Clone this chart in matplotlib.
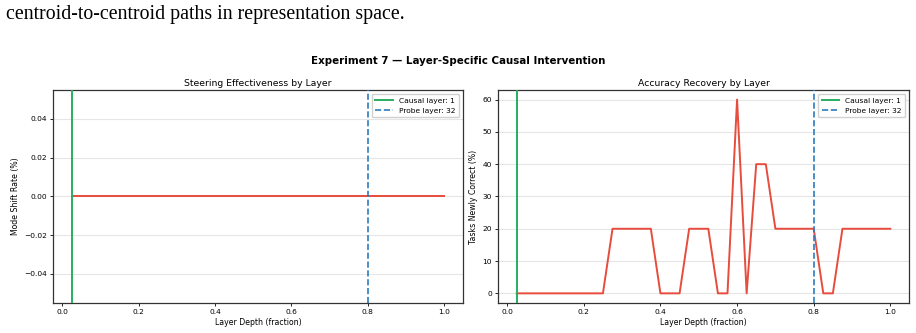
import matplotlib
matplotlib.use("Agg")
import matplotlib.pyplot as plt
import numpy as np

# Data
layers = list(range(1, 41))
n_layers = 40
mode_shift_rate = [0.0] * 40
tasks_newly_correct = [0, 0, 0, 0, 0, 0, 0, 0, 0, 0,
                       20, 20, 20, 20, 20,
                       0, 0, 0,
                       20, 20, 20,
                       0, 0,
                       60,
                       0,
                       40, 40,
                       20, 20, 20, 20, 20,
                       0, 0,
                       20, 20, 20, 20, 20, 20]
causal_layer = 1
probe_layer = 32

depth = [l / n_layers for l in layers]

RED = "#e74c3c"
GREEN = "#27ae60"
BLUE = "#2f7bc0"

fig = plt.figure(figsize=(9.16, 3.33), dpi=100)
fig.text(0.007, 0.957, "centroid-to-centroid paths in representation space.",
         family="Liberation Serif", fontsize=14.3, ha="left", va="center")
fig.suptitle("Experiment 7 — Layer-Specific Causal Intervention", x=0.5, y=0.817,
             fontsize=7.4, fontweight="bold", va="center")

ax1 = fig.add_axes([0.058, 0.090, 0.447, 0.640])
ax2 = fig.add_axes([0.5437, 0.090, 0.4487, 0.640])

panels = [
    (ax1, mode_shift_rate, "Steering Effectiveness by Layer", "Mode Shift Rate (%)"),
    (ax2, tasks_newly_correct, "Accuracy Recovery by Layer", "Tasks Newly Correct (%)"),
]
for ax, vals, title, ylabel in panels:
    ax.plot(depth, vals, color=RED, lw=1.4, zorder=3)
    ax.axvline(causal_layer / n_layers, color=GREEN, lw=1.4,
               label=f"Causal layer: {causal_layer}", zorder=4)
    ax.axvline(probe_layer / n_layers, color=BLUE, lw=1.2, ls="--",
               label=f"Probe layer: {probe_layer}", zorder=4)
    ax.set_title(title, fontsize=6.7, pad=3)
    ax.set_xlabel("Layer Depth (fraction)", fontsize=5.6, labelpad=2)
    ax.set_ylabel(ylabel, fontsize=5.6, labelpad=3)
    ax.tick_params(labelsize=5.4, length=2.5, width=0.6, pad=2)
    ax.grid(axis="y", color="#e6e6e6", lw=0.8, zorder=0)
    ax.set_axisbelow(True)
    for s in ax.spines.values():
        s.set_linewidth(0.9)
        s.set_color("#333333")
    ax.margins(x=0.05)
    ax.legend(loc="upper right", fontsize=5.4, framealpha=0.9, borderpad=0.5,
              handlelength=2.3, edgecolor="#cccccc", fancybox=True)

ax1.set_ylim(-0.055, 0.055)
ax1.set_yticks([-0.04, -0.02, 0.0, 0.02, 0.04])
ax2.set_ylim(-3, 63)

fig.savefig("out.png", dpi=100)
